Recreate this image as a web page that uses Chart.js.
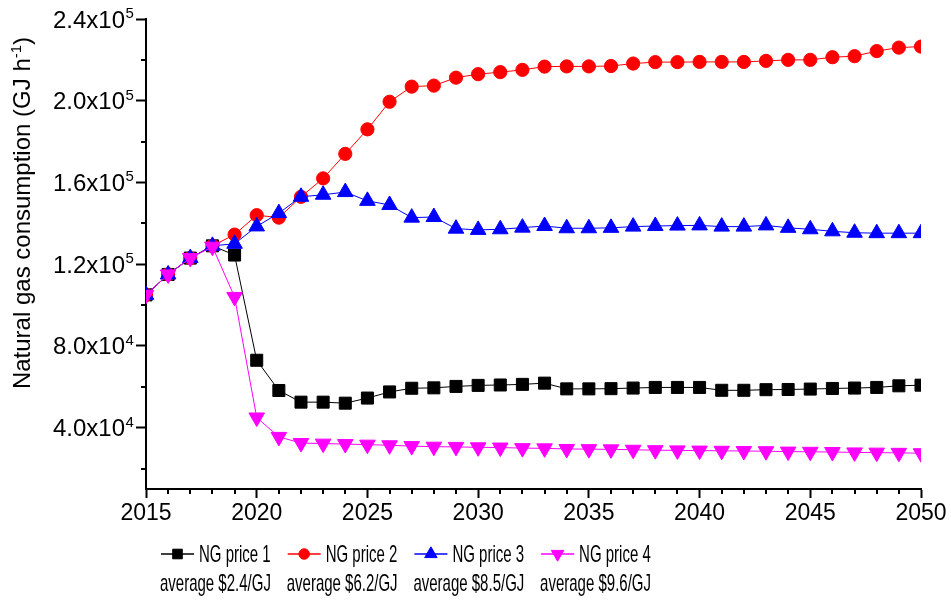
<!DOCTYPE html>
<html><head><meta charset="utf-8">
<script src="https://cdn.jsdelivr.net/npm/chart.js@4.4.1/dist/chart.umd.min.js"></script>
<style>html,body{margin:0;padding:0;background:#fff}#wrap{width:951px;height:609px;position:relative}canvas{display:block}</style>
</head><body><div id="wrap"><canvas id="c" width="951" height="609"></canvas></div>
<script>
const years = [2015,2016,2017,2018,2019,2020,2021,2022,2023,2024,2025,2026,2027,2028,2029,2030,2031,2032,2033,2034,2035,2036,2037,2038,2039,2040,2041,2042,2043,2044,2045,2046,2047,2048,2049,2050];
const price1 = [105000,115000,123000,129000,124500,73000,58200,52500,52500,52000,54500,57500,59300,59500,60200,60700,60900,61200,61800,59000,59000,59100,59400,59700,59700,59700,58300,58300,58600,58700,58900,59200,59400,59700,60500,60800];
const price2 = [105000,115000,123000,129000,134500,144000,142800,153000,162000,174000,186000,199500,206900,207400,211300,213000,214000,215100,216700,216800,216800,217000,218200,218900,218900,219000,219000,219000,219500,220000,220000,221300,221800,224300,226000,226500];
const price3 = [105000,115000,123000,129000,130000,138500,145000,153000,154000,155300,151000,149000,142800,143100,137400,136800,137100,137900,138700,137600,137600,137800,138400,138700,138900,139000,138400,138400,139000,137800,137100,136100,135400,135200,135200,135200];
const price4 = [105000,115000,123000,128600,104000,45000,35500,32500,32200,32000,31700,31400,31000,30700,30600,30400,30300,30000,29900,29600,29500,29400,29200,29000,28900,28800,28700,28600,28500,28300,28200,28100,27900,27800,27700,27500];
const seriesNames = ['NG price 1','NG price 2','NG price 3','NG price 4'];
const seriesNotes = ['average $2.4/GJ','average $6.2/GJ','average $8.5/GJ','average $9.6/GJ'];
const xTicks = [2015,2020,2025,2030,2035,2040,2045,2050];
const yTicks = [40000,80000,120000,160000,200000,240000];
const yMinorTicks = [20000,60000,100000,140000,180000,220000];
const yTitle = 'Natural gas consumption (GJ h';
const yTitleSup = '-1';

const FONT = '"Liberation Sans", Arial, Helvetica, sans-serif';
const colors = ['#000000','#ff0000','#0000ff','#ff00ff'];
const styles = ['rect','circle','triangle','triangle'];
const radii = [8.5,6.6,9,9];
const rotations = [0,0,0,180];
const orders = [4,3,2,1];
const seriesValues = [price1,price2,price3,price4];

function toXY(arr){ return years.map((yr,i)=>({x:yr,y:arr[i]})); }

const datasets = seriesValues.map((arr,i)=>({
  label: seriesNames[i],
  data: toXY(arr),
  borderColor: colors[i],
  backgroundColor: colors[i],
  borderWidth: 1,
  pointStyle: styles[i],
  pointRadius: radii[i],
  pointRotation: rotations[i],
  pointBackgroundColor: colors[i],
  pointBorderColor: colors[i],
  pointBorderWidth: 1,
  tension: 0,
  order: orders[i]
}));

function drawMarker(ctx, style, r, rot, x, y){
  if (Chart.helpers && Chart.helpers.drawPoint) {
    Chart.helpers.drawPoint(ctx, {pointStyle: style, radius: r, rotation: rot, borderWidth: 1}, x, y);
    return;
  }
  ctx.beginPath();
  if (style==='circle'){ ctx.arc(x,y,r,0,Math.PI*2); }
  else if (style==='rect'){ const s=r*Math.SQRT1_2; ctx.rect(x-s,y-s,2*s,2*s); }
  else { let a = rot*Math.PI/180; for(let k=0;k<3;k++){ const px=x+Math.sin(a)*r, py=y-Math.cos(a)*r; k?ctx.lineTo(px,py):ctx.moveTo(px,py); a+=2*Math.PI/3; } ctx.closePath(); }
  ctx.fill(); ctx.stroke();
}

const extras = {
  id: 'extras',
  afterDraw(chart){
    const ctx = chart.ctx, xs = chart.scales.x, ys = chart.scales.y, ca = chart.chartArea;
    ctx.save();
    ctx.strokeStyle = '#000'; ctx.lineWidth = 2;
    years.filter(v => xTicks.indexOf(v) < 0).forEach(v => {
      const px = Math.round(xs.getPixelForValue(v));
      ctx.beginPath(); ctx.moveTo(px, ca.bottom); ctx.lineTo(px, ca.bottom + 5); ctx.stroke();
    });
    yMinorTicks.forEach(v => {
      const py = Math.round(ys.getPixelForValue(v));
      ctx.beginPath(); ctx.moveTo(ca.left, py); ctx.lineTo(ca.left - 5, py); ctx.stroke();
    });
    ctx.fillStyle = '#000';
    ctx.textBaseline = 'alphabetic';
    yTicks.forEach(v => {
      const py = ys.getPixelForValue(v);
      const e = Math.floor(Math.log10(v) + 1e-9);
      const m = (v / Math.pow(10, e)).toFixed(1);
      ctx.font = '24px ' + FONT; ctx.textAlign = 'right';
      ctx.fillText(m + 'x10', ca.left - 21, py + 8.5);
      ctx.font = '15px ' + FONT; ctx.textAlign = 'left';
      ctx.fillText(String(e), ca.left - 20.5, py - 1);
    });
    ctx.save();
    ctx.translate(30, 213);
    ctx.rotate(-Math.PI/2);
    ctx.font = '24px ' + FONT;
    const w1 = ctx.measureText(yTitle).width;
    const wc = ctx.measureText(')').width;
    ctx.font = '15px ' + FONT;
    const ws = ctx.measureText(yTitleSup).width;
    const total = w1 + ws + wc;
    let x0 = -total/2;
    ctx.textAlign = 'left';
    ctx.font = '24px ' + FONT; ctx.fillText(yTitle, x0, 0);
    ctx.font = '15px ' + FONT; ctx.fillText(yTitleSup, x0 + w1, -9.5);
    ctx.font = '24px ' + FONT; ctx.fillText(')', x0 + w1 + ws, 0);
    ctx.restore();
    const lx0 = 161, lstep = 126.7, lineY = 554, base1 = 562, base2 = 591, sx = 0.625;
    chart.data.datasets.forEach((ds, i) => {
      const left = lx0 + i * lstep;
      ctx.strokeStyle = ds.borderColor; ctx.fillStyle = ds.borderColor; ctx.lineWidth = 1.5;
      ctx.beginPath(); ctx.moveTo(left, lineY); ctx.lineTo(left + 33, lineY); ctx.stroke();
      ctx.lineWidth = 1;
      drawMarker(ctx, ds.pointStyle, ds.pointRadius * 0.8, ds.pointRotation, left + 16.5, lineY);
      ctx.fillStyle = '#000'; ctx.font = '24px ' + FONT; ctx.textAlign = 'left';
      ctx.save(); ctx.translate(left + 38, base1); ctx.scale(sx, 1); ctx.fillText(seriesNames[i], 0, 0); ctx.restore();
      ctx.save(); ctx.translate(left - 1, base2); ctx.scale(sx, 1); ctx.fillText(seriesNotes[i], 0, 0); ctx.restore();
    });
    ctx.restore();
  }
};

new Chart(document.getElementById('c'), {
  type: 'line',
  data: { datasets },
  plugins: [extras],
  options: {
    responsive: false, animation: false, devicePixelRatio: 1,
    layout: { padding: { top: 19, right: 30, left: 0, bottom: 0 } },
    plugins: { legend: { display: false }, tooltip: { enabled: false } },
    scales: {
      x: {
        type: 'linear', min: 2015, max: 2050,
        afterFit: s => { s.height = 120; },
        afterBuildTicks: s => { s.ticks = xTicks.map(v => ({ value: v })); },
        grid: { drawOnChartArea: false, drawTicks: true, tickLength: 9, tickWidth: 2, tickColor: '#000' },
        border: { display: true, color: '#000', width: 2 },
        ticks: { font: { family: FONT, size: 23 }, color: '#000', padding: 2, maxRotation: 0, autoSkip: false, callback: v => String(v) }
      },
      y: {
        type: 'linear', min: 10000, max: 240000,
        afterFit: s => { s.width = 146; },
        afterBuildTicks: s => { s.ticks = yTicks.map(v => ({ value: v })); },
        grid: { drawOnChartArea: false, drawTicks: true, tickLength: 10, tickWidth: 2, tickColor: '#000' },
        border: { display: true, color: '#000', width: 2 },
        ticks: { display: false }
      }
    }
  }
});
</script>
</body></html>
